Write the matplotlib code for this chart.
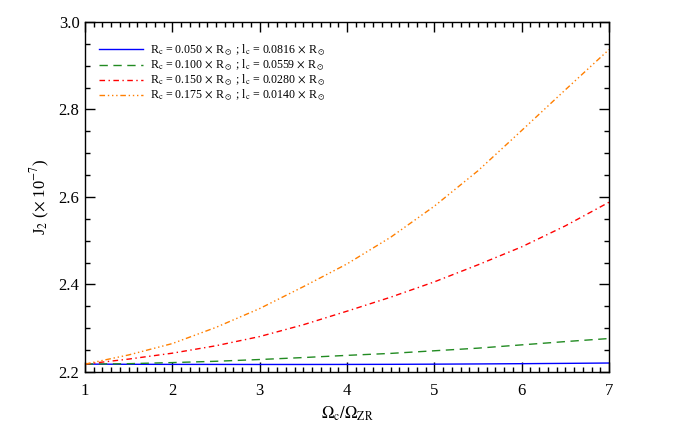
import numpy as np
import matplotlib
matplotlib.use("Agg")
import matplotlib.pyplot as plt
from matplotlib.ticker import MultipleLocator, FormatStrFormatter

plt.rcParams['font.family'] = ['Liberation Serif', 'DejaVu Serif']
plt.rcParams['mathtext.fontset'] = 'stix'

# Omega_c / Omega_ZR
omega = [1.0, 1.5, 2.0, 2.5, 3.0, 3.5, 4.0, 4.5, 5.0, 5.5, 6.0, 6.5, 7.0]

# J2 (x 1e-7) for the four core models
j2_rc050 = [2.2180, 2.2176, 2.2174, 2.2173, 2.2172, 2.2172, 2.2173,
            2.2175, 2.2179, 2.2184, 2.2190, 2.2197, 2.2205]
j2_rc100 = [2.218, 2.219, 2.2215, 2.2245, 2.2285, 2.233, 2.238,
            2.2425, 2.2485, 2.2545, 2.262, 2.2695, 2.2765]
j2_rc150 = [2.218, 2.2295, 2.243, 2.260, 2.281, 2.308, 2.339,
            2.371, 2.406, 2.445, 2.486, 2.534, 2.588]
j2_rc175 = [2.218, 2.239, 2.265, 2.302, 2.345, 2.395, 2.447,
            2.508, 2.579, 2.660, 2.752, 2.845, 2.937]

labels = [
    r'R$_\mathrm{c}$ = 0.050 $\times$ R$_\odot$ ; l$_\mathrm{c}$ = 0.0816 $\times$ R$_\odot$',
    r'R$_\mathrm{c}$ = 0.100 $\times$ R$_\odot$ ; l$_\mathrm{c}$ = 0.0559 $\times$ R$_\odot$',
    r'R$_\mathrm{c}$ = 0.150 $\times$ R$_\odot$ ; l$_\mathrm{c}$ = 0.0280 $\times$ R$_\odot$',
    r'R$_\mathrm{c}$ = 0.175 $\times$ R$_\odot$ ; l$_\mathrm{c}$ = 0.0140 $\times$ R$_\odot$',
]

fig = plt.figure(figsize=(6.98, 4.33), dpi=100)
ax = fig.add_axes([0.1218, 0.1409, 0.7507, 0.8083])

ax.plot(omega, j2_rc050, color='#0000ff', lw=1.0, linestyle='-', label=labels[0])
ax.plot(omega, j2_rc100, color='#228b22', lw=1.0, linestyle=(0, (6, 4)), label=labels[1])
ax.plot(omega, j2_rc150, color='#ff0000', lw=1.0, linestyle=(0, (4, 2.5, 1, 2.5)), label=labels[2])
ax.plot(omega, j2_rc175, color='#ff7f00', lw=1.0,
        linestyle=(0, (4, 2, 1, 2, 1, 2, 1, 2)), label=labels[3])

ax.set_xlim(1, 7)
ax.set_ylim(2.2, 3.0)
ax.xaxis.set_major_locator(MultipleLocator(1))
ax.xaxis.set_minor_locator(MultipleLocator(0.1))
ax.yaxis.set_major_locator(MultipleLocator(0.2))
ax.yaxis.set_minor_locator(MultipleLocator(0.05))
ax.yaxis.set_major_formatter(FormatStrFormatter('%.1f'))
ax.tick_params(which='both', direction='in', top=True, right=True, labelsize=12)
ax.tick_params(axis='x', pad=8)
ax.tick_params(axis='y', pad=4)
ax.tick_params(which='major', length=7.5, width=1.0)
ax.tick_params(which='minor', length=3.8, width=1.0)
for s in ax.spines.values():
    s.set_linewidth(1.0)

ax.set_xlabel(r'$\Omega_\mathrm{c}/\Omega_\mathrm{ZR}$', fontsize=12)
ax.set_ylabel(r'J$_2$ ($\times$ 10$^{-7}$)', fontsize=12, labelpad=5)

ax.legend(loc='upper left', bbox_to_anchor=(0.01, 0.965), frameon=False, fontsize=8.6,
          handlelength=3.7, handletextpad=0.6, labelspacing=0.0, borderaxespad=0.3)

fig.savefig('out.png', dpi=100)
